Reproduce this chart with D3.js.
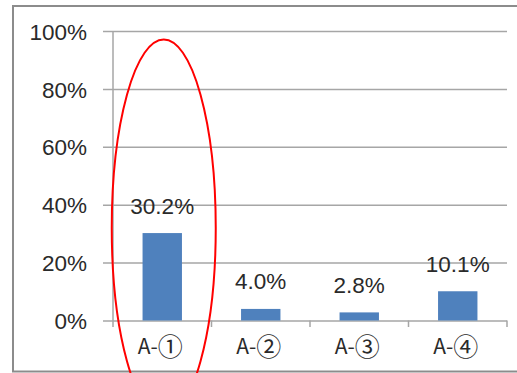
<!DOCTYPE html>
<html><head><meta charset="utf-8">
<script src="https://cdn.jsdelivr.net/npm/d3@7"></script>
<style>body{margin:0;background:#fff}svg{display:block}</style>
</head><body>
<script>
const categories = ["A-①","A-②","A-③","A-④"];
const values = [0.302, 0.040, 0.028, 0.101];
const valueLabels = ["30.2%","4.0%","2.8%","10.1%"];
const yTicks = [0, 0.2, 0.4, 0.6, 0.8, 1.0];

const W = 517, H = 373;
const font = "'Liberation Sans', 'Noto Sans CJK JP', sans-serif";
const catFont = "'Noto Sans CJK JP', 'Liberation Sans', sans-serif";
const svg = d3.select("body").append("svg").attr("width", W).attr("height", H);

// outer border (right edge runs off the picture)
svg.append("rect").attr("x", 13).attr("y", 6).attr("width", 520).attr("height", 365.5)
  .attr("fill", "none").attr("stroke", "#8c8c8c").attr("stroke-width", 2);

const x0 = 113, x1 = 507, yTop = 31, yBot = 320.5;
const y = d3.scaleLinear().domain([0, 1]).range([yBot, yTop]);
const xCat = d3.scaleBand().domain(categories).range([x0, x1]).padding(0);
const xBar = d3.scaleBand().domain(categories).range([x0, x1]).paddingInner(0.6).paddingOuter(0.3);

// gridlines + y ticks
const yAxis = d3.axisLeft(y).tickValues(yTicks).tickFormat(d3.format(".0%"))
  .tickSize(-(x1 - x0)).tickSizeOuter(0).tickPadding(0);
const gy = svg.append("g").attr("transform", `translate(${x0},0)`).call(yAxis);
gy.select(".domain").remove();
gy.selectAll(".tick line").attr("x1", -10).attr("stroke", "#a6a6a6").attr("stroke-width", 1.5);
gy.selectAll(".tick text").attr("x", -26).attr("dy", "0.36em")
  .attr("font-family", font).attr("font-size", 22.5).attr("fill", "#2a2a2a");

// y axis line
svg.append("line").attr("x1", x0).attr("x2", x0).attr("y1", yTop).attr("y2", yBot + 6.5)
  .attr("stroke", "#a6a6a6").attr("stroke-width", 1.5);

// category ticks
const catEdges = categories.map(c => xCat(c) + xCat.bandwidth());
svg.selectAll("line.ct").data(catEdges).join("line").attr("class", "ct")
  .attr("x1", d => d).attr("x2", d => d).attr("y1", yBot).attr("y2", yBot + 6.5)
  .attr("stroke", "#a6a6a6").attr("stroke-width", 1.5);

// bars
svg.selectAll("rect.bar").data(values).join("rect").attr("class", "bar")
  .attr("x", (d, i) => xBar(categories[i])).attr("width", xBar.bandwidth())
  .attr("y", d => y(d)).attr("height", d => yBot - y(d)).attr("fill", "#4f81bd");

// value labels
svg.selectAll("text.vl").data(values).join("text").attr("class", "vl")
  .attr("x", (d, i) => xBar(categories[i]) + xBar.bandwidth() / 2)
  .attr("y", d => y(d) - 19.5).attr("text-anchor", "middle")
  .attr("font-family", font).attr("font-size", 22.5).attr("fill", "#2a2a2a")
  .text((d, i) => valueLabels[i]);

// category labels ("A-" prefix + enlarged circled digit)
const cl = svg.selectAll("text.cl").data(categories).join("text").attr("class", "cl")
  .attr("x", d => xCat(d) + xCat.bandwidth() / 2 - 2).attr("y", 354)
  .attr("text-anchor", "middle").attr("font-family", catFont).attr("font-size", 21).attr("fill", "#2a2a2a");
cl.append("tspan").text(d => d.slice(0, 2));
cl.append("tspan").attr("font-size", 25).attr("dy", 1.5).text(d => d.slice(2));

// red highlight ellipse around first category
const c0 = xBar(categories[0]) + xBar.bandwidth() / 2;
svg.append("ellipse").attr("cx", c0 + 1.5).attr("cy", 228).attr("rx", 52).attr("ry", 188.5)
  .attr("fill", "none").attr("stroke", "#ff0000").attr("stroke-width", 2);
</script>
</body></html>
